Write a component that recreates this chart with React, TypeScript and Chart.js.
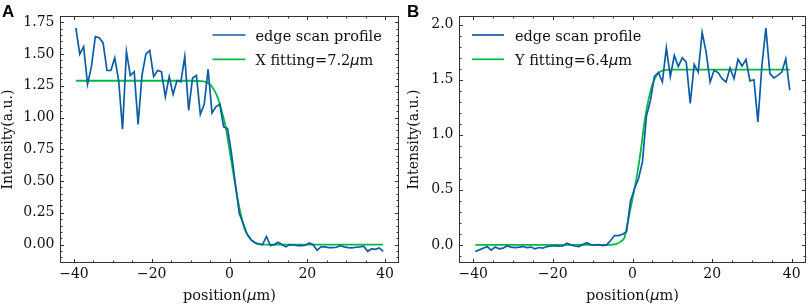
import React, { useEffect, useRef } from "react";
import { Chart, registerables } from "chart.js";

Chart.register(...registerables);

// sample positions (µm) of the edge scans
const positions = [
  -39.5, -38.5, -37.5, -36.5, -35.5, -34.5, -33.5, -32.5, -31.5, -30.5,
  -29.5, -28.5, -27.5, -26.5, -25.5, -24.5, -23.5, -22.5, -21.5, -20.5,
  -19.5, -18.5, -17.5, -16.5, -15.5, -14.5, -13.5, -12.5, -11.5, -10.5,
  -9.5, -8.5, -7.5, -6.5, -5.5, -4.5, -3.5, -2.5, -1.5, -0.5,
  0.5, 1.5, 2.5, 3.5, 4.5, 5.5, 6.5, 7.5, 8.5, 9.5,
  10.5, 11.5, 12.5, 13.5, 14.5, 15.5, 16.5, 17.5, 18.5, 19.5,
  20.5, 21.5, 22.5, 23.5, 24.5, 25.5, 26.5, 27.5, 28.5, 29.5,
  30.5, 31.5, 32.5, 33.5, 34.5, 35.5, 36.5, 37.5, 38.5, 39.5,
];

// panel A: X edge scan profile
const profileX = [
  1.707, 1.499, 1.559, 1.263, 1.401, 1.638, 1.628, 1.588, 1.371, 1.371,
  1.47, 1.292, 0.908, 1.519, 1.332, 1.361, 0.947, 1.332, 1.499, 1.529,
  1.322, 1.371, 1.361, 1.164, 1.322, 1.184, 1.292, 1.282, 1.48, 1.056,
  1.312, 1.332, 1.026, 1.105, 1.381, 1.036, 1.085, 1.105, 0.927, 0.913,
  0.72, 0.483, 0.247, 0.168, 0.084, 0.039, 0.015, 0.004, 0.0, 0.064,
  -0.008, 0.0, 0.018, 0.0, -0.018, 0.0, -0.003, -0.008, -0.008, -0.005,
  0.013, 0.0, -0.045, -0.018, -0.018, -0.024, -0.024, -0.021, -0.008, -0.018,
  -0.024, -0.026, -0.021, -0.018, -0.013, -0.053, -0.034, -0.037, -0.026, -0.053,
];

// panel B: Y edge scan profile
const profileY = [
  -0.06, -0.045, -0.03, -0.015, -0.048, -0.02, -0.036, -0.03, -0.01, -0.02,
  -0.024, -0.02, -0.015, -0.024, -0.02, -0.036, -0.024, -0.03, -0.015, -0.012,
  -0.006, -0.012, -0.01, 0.015, 0.0, -0.01, -0.015, 0.003, 0.02, 0.003,
  -0.003, 0.003, -0.006, 0.0, 0.04, 0.085, 0.085, 0.097, 0.12, 0.4,
  0.51, 0.6, 0.755, 1.17, 1.31, 1.53, 1.566, 1.48, 1.79, 1.53,
  1.72, 1.62, 1.7, 1.66, 1.285, 1.64, 1.57, 1.93, 1.75, 1.48,
  1.587, 1.566, 1.51, 1.48, 1.607, 1.51, 1.686, 1.625, 1.683, 1.49,
  1.5, 1.118, 1.63, 1.97, 1.556, 1.517, 1.54, 1.57, 1.69, 1.405,
];

// fitted curves
const fitXPos = [-39.5, -10, -8, -6, -5, -4, -3, -2, -1, 0, 1, 2, 3, 4, 5, 6, 7, 8, 10, 12, 39.5];
const fitXVal = [1.29, 1.29, 1.288, 1.28, 1.262, 1.22, 1.155, 1.05, 0.93, 0.745, 0.556, 0.375, 0.225, 0.115, 0.06, 0.027, 0.01, 0.002, 0, 0, 0];

const fitYPos = [-39.5, -6, -4, -3, -2, -1, 0, 1, 2, 3, 4, 5, 6, 7, 8, 10, 39.5];
const fitYVal = [0, 0, 0.01, 0.03, 0.07, 0.24, 0.42, 0.605, 0.835, 1.115, 1.317, 1.457, 1.538, 1.575, 1.587, 1.592, 1.592];

// text
const profileLabel = "edge scan profile";
const fitXLabel: [string, boolean][] = [["X fitting=7.2", false], ["μ", true], ["m", false]];
const fitYLabel: [string, boolean][] = [["Y fitting=6.4", false], ["μ", true], ["m", false]];
const xTitle: [string, boolean][] = [["position(", false], ["μ", true], ["m)", false]];
const yTitle = "Intensity(a.u.)";

const BLUE = "#0C5DA5";
const GREEN = "#00B945";
const SERIF = "'DejaVu Serif', 'Liberation Serif', serif";
const TEXT_FONT = "14.5px " + SERIF;
const MATH_FONT = "italic 14.5px 'DejaVu Sans', sans-serif";

function drawRich(ctx: CanvasRenderingContext2D, parts: [string, boolean][], x: number, y: number, center: boolean) {
  const fonts = parts.map(([, it]) => (it ? MATH_FONT : TEXT_FONT));
  const widths = parts.map(([t], i) => {
    ctx.font = fonts[i];
    return ctx.measureText(t).width;
  });
  const total = widths.reduce((s, w) => s + w, 0);
  let cx = center ? x - total / 2 : x;
  ctx.textAlign = "left";
  ctx.textBaseline = "alphabetic";
  parts.forEach(([t], i) => {
    ctx.font = fonts[i];
    ctx.fillText(t, cx, y);
    cx += widths[i];
  });
}

const sciPlugin = {
  id: "sci",
  afterDraw(chart: any, _args: any, o: any) {
    const { ctx, chartArea: a } = chart;
    const xs = chart.scales.x;
    const ys = chart.scales.y;
    ctx.save();
    ctx.strokeStyle = "#333";
    ctx.lineWidth = 1;
    const seg = (x1: number, y1: number, x2: number, y2: number) => {
      ctx.beginPath();
      ctx.moveTo(x1, y1);
      ctx.lineTo(x2, y2);
      ctx.stroke();
    };
    const minorVals = (scale: any, step: number) => {
      const out: number[] = [];
      for (let k = Math.ceil(scale.min / step - 1e-9); k * step <= scale.max + 1e-9; k++) out.push(+(k * step).toFixed(6));
      return out;
    };
    const majX = xs.ticks.map((t: any) => t.value);
    const majY = ys.ticks.map((t: any) => t.value);
    for (const v of minorVals(xs, o.minorX)) {
      const p = Math.round(xs.getPixelForValue(v)) + 0.5;
      const L = majX.some((m: number) => Math.abs(m - v) < 1e-6) ? 3.5 : 2;
      seg(p, a.bottom, p, a.bottom - L);
      seg(p, a.top, p, a.top + L);
    }
    for (const v of minorVals(ys, o.minorY)) {
      const p = Math.round(ys.getPixelForValue(v)) + 0.5;
      const L = majY.some((m: number) => Math.abs(m - v) < 1e-6) ? 3.5 : 2;
      seg(a.left, p, a.left + L, p);
      seg(a.right, p, a.right - L, p);
    }
    ctx.strokeRect(a.left, a.top, a.right - a.left, a.bottom - a.top);

    // panel letter
    ctx.fillStyle = "#000";
    ctx.font = "bold 17px 'Liberation Sans', Arial, sans-serif";
    ctx.textAlign = "left";
    ctx.textBaseline = "alphabetic";
    ctx.fillText(o.letter, o.letterX, 16.5);

    // x axis title
    ctx.fillStyle = "#111";
    drawRich(ctx, xTitle, (a.left + a.right) / 2, 300, true);

    // legend
    const base = o.legendFrom === "right" ? a.right : a.left;
    const rows = [a.top + 18.5, a.top + 42.8];
    const items: { color: string; parts: [string, boolean][] }[] = [
      { color: BLUE, parts: [[profileLabel, false]] },
      { color: GREEN, parts: o.fitLabel },
    ];
    items.forEach((it, i) => {
      ctx.strokeStyle = it.color;
      ctx.lineWidth = 1.7;
      seg(base + o.legendLine[0], rows[i], base + o.legendLine[1], rows[i]);
      ctx.fillStyle = "#111";
      drawRich(ctx, it.parts, base + o.legendText, rows[i] + 5.5, false);
    });
    ctx.restore();
  },
};

function makeChart(
  canvas: HTMLCanvasElement,
  xData: number[],
  yData: number[],
  fx: number[],
  fy: number[],
  yMin: number,
  yMax: number,
  yStep: number,
  yDec: number,
  yAxisWidth: number,
  yTitlePad: number,
  padRight: number,
  plug: any
) {
  const fmt = (v: number, d: number) => {
    const s = Number(v).toFixed(d);
    return s.replace("-", "\u2212");
  };
  return new Chart(canvas, {
    type: "line",
    data: {
      datasets: [
        {
          data: xData.map((x, i) => ({ x, y: yData[i] })),
          borderColor: BLUE,
          borderWidth: 1.7,
          pointRadius: 0,
          pointHoverRadius: 0,
          tension: 0,
        },
        {
          data: fx.map((x, i) => ({ x, y: fy[i] })),
          borderColor: GREEN,
          borderWidth: 1.8,
          pointRadius: 0,
          pointHoverRadius: 0,
          cubicInterpolationMode: "monotone",
        },
      ],
    },
    options: {
      animation: false,
      responsive: false,
      devicePixelRatio: 1,
      events: [],
      layout: { autoPadding: false, padding: { left: 0, top: 16.5, right: padRight, bottom: 0 } },
      plugins: { legend: { display: false }, tooltip: { enabled: false }, sci: plug } as any,
      scales: {
        x: {
          type: "linear",
          min: -43.45,
          max: 43.45,
          grid: { display: false, drawTicks: false },
          border: { display: false },
          ticks: {
            stepSize: 20,
            includeBounds: false,
            autoSkip: false,
            maxRotation: 0,
            padding: 3,
            color: "#111",
            font: { family: SERIF, size: 14 },
            callback: (v: any) => fmt(v, 0),
          },
          afterFit: (s: any) => {
            s.height = 44.5;
            s.paddingLeft = 0;
            s.paddingRight = 0;
          },
        },
        y: {
          type: "linear",
          min: yMin,
          max: yMax,
          grid: { display: false, drawTicks: false },
          border: { display: false },
          ticks: {
            stepSize: yStep,
            includeBounds: false,
            autoSkip: false,
            padding: 6,
            color: "#111",
            font: { family: SERIF, size: 14 },
            callback: (v: any) => fmt(v, yDec),
          },
          title: {
            display: true,
            text: yTitle,
            color: "#111",
            font: { family: SERIF, size: 14 },
            padding: { top: yTitlePad, bottom: 0 },
          },
          afterFit: (s: any) => {
            s.width = yAxisWidth;
            s.paddingTop = 0;
            s.paddingBottom = 0;
          },
        },
      },
    } as any,
    plugins: [sciPlugin],
  });
}

export default function App() {
  const leftRef = useRef<HTMLCanvasElement>(null);
  const rightRef = useRef<HTMLCanvasElement>(null);

  useEffect(() => {
    const a = makeChart(
      leftRef.current!, positions, profileX, fitXPos, fitXVal,
      -0.141, 1.796, 0.25, 2, 60.5, 0, 5.5,
      { letter: "A", letterX: 2, minorX: 5, minorY: 0.05, legendFrom: "right", legendLine: [-186, -153], legendText: -143, fitLabel: fitXLabel }
    );
    const b = makeChart(
      rightRef.current!, positions, profileY, fitYPos, fitYVal,
      -0.16, 2.075, 0.5, 1, 55.5, 1.6, 3.5,
      { letter: "B", letterX: 3, minorX: 5, minorY: 0.1, legendFrom: "left", legendLine: [12.5, 44.5], legendText: 55.5, fitLabel: fitYLabel }
    );
    return () => {
      a.destroy();
      b.destroy();
    };
  }, []);

  return (
    <div style={{ position: "absolute", left: 0, top: 0, width: 809, height: 307, background: "#fff" }}>
      <canvas ref={leftRef} width={404} height={307} style={{ position: "absolute", left: 0, top: 0, width: 404, height: 307 }} />
      <canvas ref={rightRef} width={405} height={307} style={{ position: "absolute", left: 404, top: 0, width: 405, height: 307 }} />
    </div>
  );
}
